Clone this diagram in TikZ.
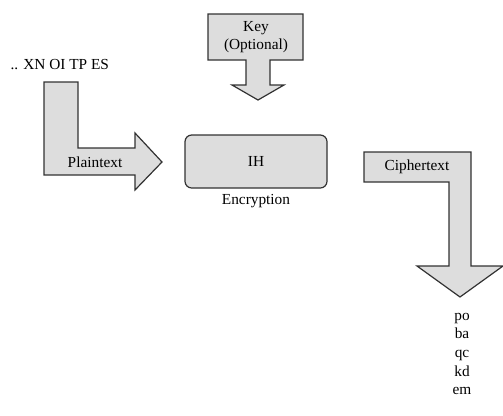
\documentclass[tikz,border=0pt]{standalone}
\usepackage{fontspec}
\setmainfont{Liberation Serif}
\usetikzlibrary{positioning,calc}
\definecolor{arrowfill}{RGB}{221,221,221}
\definecolor{edge}{RGB}{50,50,50}
\begin{document}
\begin{tikzpicture}[x=0.75pt,y=-0.75pt,
	blockarrow/.style={draw=edge,fill=arrowfill,line width=0.9pt,line join=miter},
	lbl/.style={font=\fontsize{11.5}{13.5}\selectfont,inner sep=1pt}]
		\useasboundingbox (0,0) rectangle (503,415);
		
		% plaintext
		\node[lbl,anchor=west] (msg) at (9,65) {.. XN OI TP ES};
		\draw[blockarrow] (44,82)--(78,82)--(78,148)--(135,148)--(135,133)--(162,162)--(135,190)--(135,175)--(44,175)--cycle;
		\node[lbl] (plain) at (95,162) {Plaintext};
		
		% key
		\draw[blockarrow] (208,14)--(303,14)--(303,60)--(270,60)--(270,85)--(284,85)--(258,100)--(232,85)--(246,85)--(246,60)--(208,60)--cycle;
		\node[lbl,align=center] (key) at (256,37.5) {Key\\(Optional)};
		
		% encryption
		\node[draw=edge,fill=arrowfill,line width=0.9pt,rounded corners=5pt,minimum width=142*0.75pt,minimum height=53*0.75pt,lbl] (enc) at (256,161.5) {IH};
		\node[lbl,below=3pt of enc] (enclbl) {Encryption};
		
		% ciphertext
		\draw[blockarrow] (364,152)--(471,152)--(471,266)--(503,266)--(460,297)--(417,266)--(449,266)--(449,182)--(364,182)--cycle;
		\node[lbl] (cipher) at (417,167) {Ciphertext};
		\node[lbl,align=center,font=\fontsize{11.5}{14}\selectfont] (out) at (462,354) {po\\ba\\qc\\kd\\em};
	\end{tikzpicture}
\end{document}
